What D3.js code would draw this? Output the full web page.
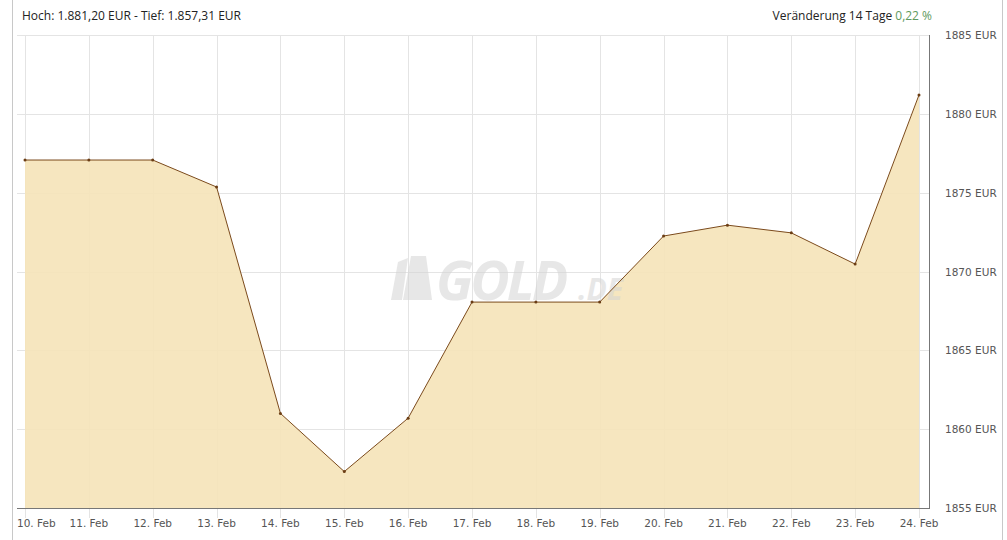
<!DOCTYPE html>
<html><head><meta charset="utf-8">
<script src="https://cdn.jsdelivr.net/npm/d3@7"></script>
<style>body{margin:0;background:#fff;}svg{display:block;}</style>
</head><body>
<svg id="c" width="1007" height="540"></svg>
<script>
const dates = ["10. Feb","11. Feb","12. Feb","13. Feb","14. Feb","15. Feb","16. Feb","17. Feb","18. Feb","19. Feb","20. Feb","21. Feb","22. Feb","23. Feb","24. Feb"];
const prices = [1877.07,1877.07,1877.07,1875.36,1861.00,1857.31,1860.70,1868.06,1868.06,1868.06,1872.25,1872.94,1872.45,1870.47,1881.20];
const yTicks = [1855,1860,1865,1870,1875,1880,1885];
const headerLeft = "Hoch: 1.881,20 EUR - Tief: 1.857,31 EUR";
const headerRight = "Veränderung 14 Tage ";
const changePct = "0,22 %";

const svg = d3.select("#c");
const x = d3.scalePoint().domain(dates).range([25, 919]);
const y = d3.scaleLinear().domain([1855, 1885]).range([508, 35]);

// borders
svg.append("line").attr("x1",12.5).attr("x2",12.5).attr("y1",0).attr("y2",540).attr("stroke","#c8c8c8");
svg.append("line").attr("x1",1002.5).attr("x2",1002.5).attr("y1",0).attr("y2",540).attr("stroke","#c8c8c8");

// horizontal grid
svg.append("g").selectAll("line").data(yTicks).join("line")
  .attr("x1",17).attr("x2",929)
  .attr("y1",d=>Math.round(y(d))+0.5).attr("y2",d=>Math.round(y(d))+0.5)
  .attr("stroke","#e4e4e4");
// vertical grid
svg.append("g").selectAll("line").data(dates).join("line")
  .attr("x1",d=>Math.round(x(d))+0.5).attr("x2",d=>Math.round(x(d))+0.5)
  .attr("y1",35).attr("y2",518)
  .attr("stroke","#e4e4e4");

// area
const area = d3.area().x((d,i)=>x(dates[i])).y0(y(1855)).y1(d=>y(d));
svg.append("path").datum(prices).attr("d",area).attr("fill","#f5e3b8").attr("fill-opacity",0.9);

// watermark
const wm = svg.append("g").attr("opacity",0.55);
wm.append("path").attr("d","M391,300 L398,262 L408,258 L402,300 Z M403,300 L411,256 L426,256 L432,300 Z").attr("fill","#d4d4d4");
wm.append("text").attr("x",436).attr("y",300).attr("font-family","Open Sans, sans-serif").attr("font-weight","bold").attr("font-style","italic")
  .attr("font-size",54).attr("fill","#d4d4d4").attr("letter-spacing","-3").text("GOLD");
wm.append("text").attr("x",578).attr("y",300).attr("font-family","Open Sans, sans-serif").attr("font-weight","bold").attr("font-style","italic")
  .attr("font-size",30).attr("fill","#d4d4d4").text(".DE");

const line = d3.line().x((d,i)=>x(dates[i])).y(d=>y(d));
svg.append("path").datum(prices).attr("d",line).attr("fill","none").attr("stroke","#7b4a1c").attr("stroke-width",1);
svg.append("g").selectAll("circle").data(prices).join("circle")
  .attr("cx",(d,i)=>x(dates[i])).attr("cy",d=>y(d)).attr("r",1.5).attr("fill","#6b3d14");

// axes lines
svg.append("line").attr("x1",17).attr("x2",929).attr("y1",508.5).attr("y2",508.5).attr("stroke","#777");
svg.append("line").attr("x1",929.5).attr("x2",929.5).attr("y1",35).attr("y2",509).attr("stroke","#777");

// labels
svg.append("g").selectAll("text").data(yTicks).join("text")
  .attr("x",945).attr("y",d=>y(d)+4).attr("font-family","DejaVu Sans, sans-serif").attr("font-size",10.5)
  .attr("fill","#555").text(d=>d+" EUR");
const xl = svg.append("g").selectAll("text").data(dates).join("text")
  .attr("x",d=>x(d)).attr("y",527).attr("text-anchor","middle").attr("font-family","DejaVu Sans, sans-serif").attr("font-size",10.5)
  .attr("fill","#555").text(d=>d);
xl.each(function(d){
  const w = this.getComputedTextLength();
  if (x(d) - w/2 < 17) d3.select(this).attr("x", 17 + w/2);
});

svg.append("text").attr("x",22).attr("y",20).attr("font-family","Open Sans, sans-serif").attr("font-size",12).attr("fill","#222").text(headerLeft);
const hr = svg.append("text").attr("x",932).attr("y",20).attr("text-anchor","end").attr("font-family","Open Sans, sans-serif").attr("font-size",12).attr("fill","#222");
hr.append("tspan").text(headerRight);
hr.append("tspan").attr("fill","#5e9a5e").text(changePct);
</script>
</body></html>
